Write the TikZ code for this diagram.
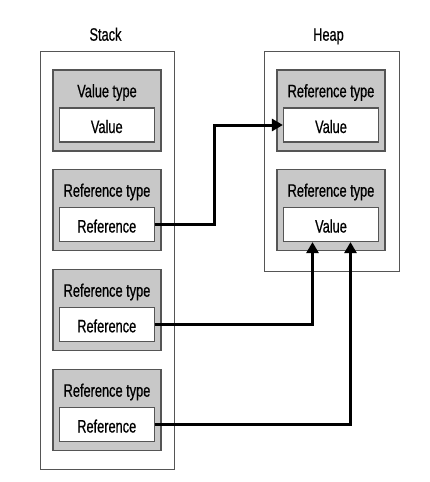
\documentclass[tikz,border=0pt]{standalone}
\usepackage{fontspec}
\setmainfont{Liberation Sans}[FakeStretch=0.71,FakeBold=0.6]
\usetikzlibrary{arrows.meta,calc}
\definecolor{boxgray}{RGB}{200,200,200}
\definecolor{edgegray}{RGB}{85,85,85}
\tikzset{
  outer/.style={draw=edgegray, line width=0.9pt, fill=white, inner sep=0pt, minimum width=#1},
  graybox/.style={draw=edgegray, line width=1.2pt, fill=boxgray, inner sep=0pt, minimum width=108pt, minimum height=81pt},
  whitebox/.style={draw=edgegray, line width=1.2pt, fill=white, inner sep=0pt, minimum width=95pt, minimum height=34pt, text height=16pt, text depth=0pt, font=\fontsize{18}{20}\selectfont},
  ttl/.style={inner sep=0pt, anchor=base, font=\fontsize{18}{20}\selectfont},
  arr/.style={line width=3pt, -{Triangle[length=11pt,width=12pt]}, line join=miter}
}
\begin{document}
\begin{tikzpicture}[x=1pt,y=-1pt]
\useasboundingbox (0,0) rectangle (430,482);
% containers
\node[outer=134pt, minimum height=418pt] (stack) at (107,260) {};
\node[outer=135pt, minimum height=220pt] (heap) at (331.5,161) {};
\node[ttl] (stacklbl) at (105.5,40.7) {Stack};
\node[ttl] (heaplbl) at (328.5,40.7) {Heap};
% stack items
\node[graybox] (sg1) at (107,110.5) {};
\node[ttl] (st1) at (107,97.2) {Value type};
\node[whitebox] (sw1) at (106.75,125) {Value};
\node[graybox] (sg2) at (107,210) {};
\node[ttl] (st2) at (107,196.7) {Reference type};
\node[whitebox] (sw2) at (106.75,224.5) {Reference};
\node[graybox] (sg3) at (107,310) {};
\node[ttl] (st3) at (107,296.7) {Reference type};
\node[whitebox] (sw3) at (106.75,324.3) {Reference};
\node[graybox] (sg4) at (107,410) {};
\node[ttl] (st4) at (107,396.7) {Reference type};
\node[whitebox] (sw4) at (106.75,424.5) {Reference};
% heap items
\node[graybox] (hg1) at (331,110.5) {};
\node[ttl] (ht1) at (331,97.2) {Reference type};
\node[whitebox] (hw1) at (331,125) {Value};
\node[graybox] (hg2) at (331,210) {};
\node[ttl] (ht2) at (331,196.7) {Reference type};
\node[whitebox] (hw2) at (331,224.5) {Value};
% connectors
\draw[arr] (sw2.east) -- ++(60,0) |- (hw1.west);
\draw[arr] (sw3.east) -| ([xshift=-18.5pt]hw2.south);
\draw[arr] (sw4.east) -| ([xshift=19.5pt]hw2.south);
\end{tikzpicture}
\end{document}
